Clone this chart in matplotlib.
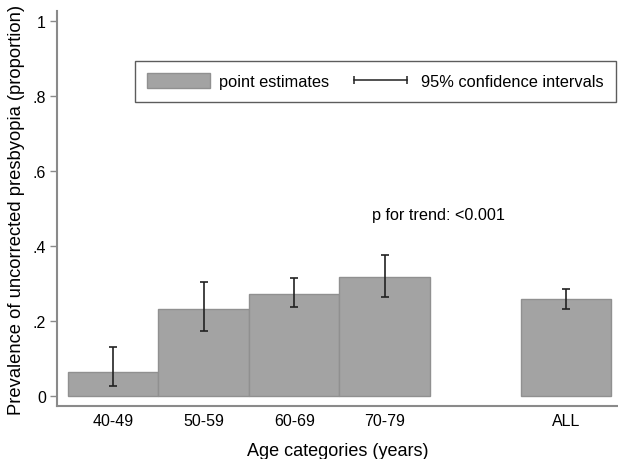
import numpy as np
import matplotlib
matplotlib.use("Agg")
import matplotlib.pyplot as plt
from matplotlib.patches import Patch
from matplotlib.lines import Line2D

plt.rcParams['font.family'] = ['Liberation Sans', 'DejaVu Sans']

# prevalence by age group
categories = ["40-49", "50-59", "60-69", "70-79", "ALL"]
positions = [1, 2, 3, 4, 6]
estimates = [0.064, 0.233, 0.273, 0.317, 0.259]
ci_low = [0.027, 0.172, 0.237, 0.263, 0.232]
ci_high = [0.130, 0.305, 0.314, 0.376, 0.285]
ytick_vals = [0, 0.2, 0.4, 0.6, 0.8, 1.0]
ytick_labels = ["0", ".2", ".4", ".6", ".8", "1"]

bar_color = '#a3a3a3'
axis_gray = '#8a8a8a'

fig = plt.figure(figsize=(6.18, 4.6), dpi=100)
ax = fig.add_axes([57/618, 1 - 407/460, 1 - 57/618, (407 - 12)/460])

est = np.array(estimates)
err = np.vstack([est - np.array(ci_low), np.array(ci_high) - est])

ax.bar(positions, estimates, width=1.0, color=bar_color, edgecolor='#909090', linewidth=1.0)
ax.errorbar(positions, estimates, yerr=err, fmt='none', ecolor='#222222',
            elinewidth=1.2, capsize=3, capthick=1.2)

ax.set_xlim(0.382, 6.574)
ax.set_ylim(-0.0267, 1.0267)

ax.set_xticks(positions)
ax.set_xticklabels(categories, fontsize=11.5)
ax.tick_params(axis='x', length=0, pad=5)
ax.set_yticks(ytick_vals)
ax.set_yticklabels(ytick_labels, fontsize=11.5)
ax.tick_params(axis='y', length=5, width=1, color=axis_gray, pad=3)

for s in ['top', 'right']:
    ax.spines[s].set_visible(False)
for s in ['left', 'bottom']:
    ax.spines[s].set_color(axis_gray)
    ax.spines[s].set_linewidth(1.5)

ax.set_xlabel("Age categories (years)", fontsize=13, labelpad=10)
ax.set_ylabel("Prevalence of uncorrected presbyopia (proportion)", fontsize=13.2, labelpad=5)

ax.text(3.86, 0.483, "p for trend: <0.001", fontsize=11.7, va='center', ha='left')

handles = [Patch(facecolor=bar_color, edgecolor='#909090'),
           Line2D([], [], color='#222222', lw=1.1, marker='|', markersize=6, markeredgewidth=1.1)]
leg = fig.legend(handles, ["point estimates", "95% confidence intervals"],
                 loc='upper left', bbox_to_anchor=(135/618, 1 - 62/460), ncol=2,
                 fontsize=11.8, frameon=True, fancybox=False, numpoints=2,
                 handlelength=3.8, handleheight=1.0, handletextpad=0.6,
                 columnspacing=1.2, borderpad=0.75, borderaxespad=0)
leg.get_frame().set_edgecolor('#333333')
leg.get_frame().set_linewidth(1.0)

fig.savefig("out.png", dpi=100)
